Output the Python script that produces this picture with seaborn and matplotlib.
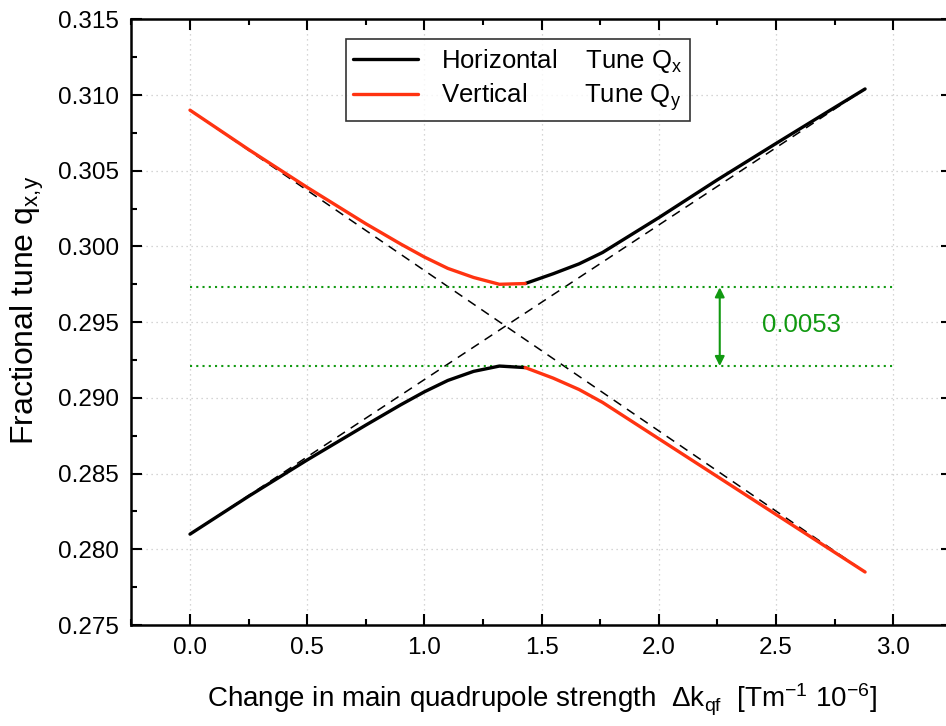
import numpy as np
import pandas as pd
import matplotlib
matplotlib.use('Agg')
import matplotlib.pyplot as plt
from matplotlib.ticker import MultipleLocator
import seaborn as sns

# Tune values
dk = [0.0, 0.25, 0.5, 0.75, 0.9, 1.0, 1.1, 1.21, 1.32, 1.43,
      1.55, 1.66, 1.76, 1.88, 2.0, 2.25, 2.5, 2.7, 2.88]
upper_branch = [0.3090, 0.3064, 0.3039, 0.3015, 0.30015, 0.2993, 0.29855, 0.29795, 0.2975, 0.29755,
                0.2982, 0.29885, 0.2996, 0.30075, 0.3019, 0.3044, 0.3068, 0.3087, 0.3104]
lower_branch = [0.2810, 0.2835, 0.2859, 0.2882, 0.28955, 0.2904, 0.29115, 0.29175, 0.2921, 0.2920,
                0.2913, 0.29055, 0.2897, 0.2885, 0.2873, 0.2848, 0.2823, 0.2803, 0.2785]
switch_at = 1.43

# uncoupled tunes (dashed straight lines)
unc_x = [0.0, 2.88]
unc_down = [0.3090, 0.2785]
unc_up = [0.2810, 0.3104]

# stop-band width marker
gap_top = 0.2973
gap_bottom = 0.2921
gap_x = [0.0, 3.0]
arrow_x = 2.26
gap_label = '0.0053'
gap_label_pos = (2.61, 0.2948)

red = '#ff3311'
green = '#119911'

rows = []
for x, up, lo in zip(dk, upper_branch, lower_branch):
    if x <= switch_at:
        rows.append(('Horizontal', 'H1', x, lo))
        rows.append(('Vertical', 'V1', x, up))
    if x >= switch_at:
        rows.append(('Horizontal', 'H2', x, up))
        rows.append(('Vertical', 'V2', x, lo))
df = pd.DataFrame(rows, columns=['plane', 'segment', 'dk', 'q'])

sns.set_style('ticks')
plt.rcParams['font.family'] = ['Liberation Sans', 'DejaVu Sans']
plt.rcParams['mathtext.fontset'] = 'custom'
plt.rcParams['mathtext.rm'] = 'Liberation Sans'
plt.rcParams['mathtext.it'] = 'Liberation Sans:italic'
plt.rcParams['text.color'] = 'black'
plt.rcParams['axes.labelcolor'] = 'black'
plt.rcParams['xtick.color'] = 'black'
plt.rcParams['ytick.color'] = 'black'

fig = plt.figure(figsize=(9.46, 7.26), dpi=100)
ax = fig.add_axes([131.4 / 946, 1 - 625 / 726, 820.4 / 946, 605.7 / 726])

ax.plot(unc_x, unc_down, color='black', lw=1.1, ls=(0, (6, 4.5)), zorder=2)
ax.plot(unc_x, unc_up, color='black', lw=1.1, ls=(0, (6, 4.5)), zorder=2)

sns.lineplot(data=df, x='dk', y='q', hue='plane', units='segment',
             palette={'Horizontal': 'black', 'Vertical': red},
             estimator=None, lw=2.4, ax=ax, legend=False, zorder=3)

ax.hlines([gap_top, gap_bottom], gap_x[0], gap_x[1], colors=green, lw=1.5, linestyles=(0, (1, 2)), zorder=2)
ax.annotate('', xy=(arrow_x, gap_bottom), xytext=(arrow_x, gap_top),
            arrowprops=dict(arrowstyle='<|-|>', color=green, lw=1.5, mutation_scale=14,
                            shrinkA=0, shrinkB=0))
ax.text(gap_label_pos[0], gap_label_pos[1], gap_label, color=green, fontsize=18.5,
        ha='center', va='center')

ax.set_xlim(-0.25, 3.25)
ax.set_ylim(0.275, 0.315)
ax.xaxis.set_major_locator(MultipleLocator(0.5))
ax.xaxis.set_minor_locator(MultipleLocator(0.25))
ax.yaxis.set_major_locator(MultipleLocator(0.005))
ax.yaxis.set_minor_locator(MultipleLocator(0.0025))
ax.xaxis.set_major_formatter(plt.FormatStrFormatter('%.1f'))
ax.yaxis.set_major_formatter(plt.FormatStrFormatter('%.3f'))
ax.tick_params(which='both', direction='in', top=True, right=True, width=1.5, color='black')
ax.tick_params(which='major', length=8, labelsize=17.5, pad=9)
ax.tick_params(which='minor', length=4.5)
for s in ax.spines.values():
    s.set_linewidth(1.8)
    s.set_color('black')
ax.grid(True, which='major', color='#c8c8c8', lw=0.9, ls=(0, (1, 3)))

ax.set_xlabel(r'Change in main quadrupole strength  $\Delta$k$_{\mathregular{qf}}$  [Tm$^{\mathregular{-1}}$ 10$^{\mathregular{-6}}$]',
              fontsize=20, labelpad=16)
ax.set_ylabel(r'Fractional tune q$_{\mathregular{x{,}y}}$', fontsize=23)
ax.yaxis.set_label_coords(-0.104, 0.52)

handles = [plt.Line2D([], [], color='black', lw=2.4), plt.Line2D([], [], color=red, lw=2.4)]
labels = [r'Horizontal    Tune Q$_{\mathregular{x}}$', r'Vertical        Tune Q$_{\mathregular{y}}$']
leg = ax.legend(handles, labels, loc='upper left', bbox_to_anchor=(0.2612, 0.967), borderaxespad=0,
                fontsize=18.5, frameon=True, fancybox=False, handlelength=2.5, handletextpad=0.9,
                labelspacing=0.25, borderpad=0.3)
leg.get_frame().set_edgecolor('black')
leg.get_frame().set_linewidth(1.2)

fig.savefig('out.png', dpi=100)
